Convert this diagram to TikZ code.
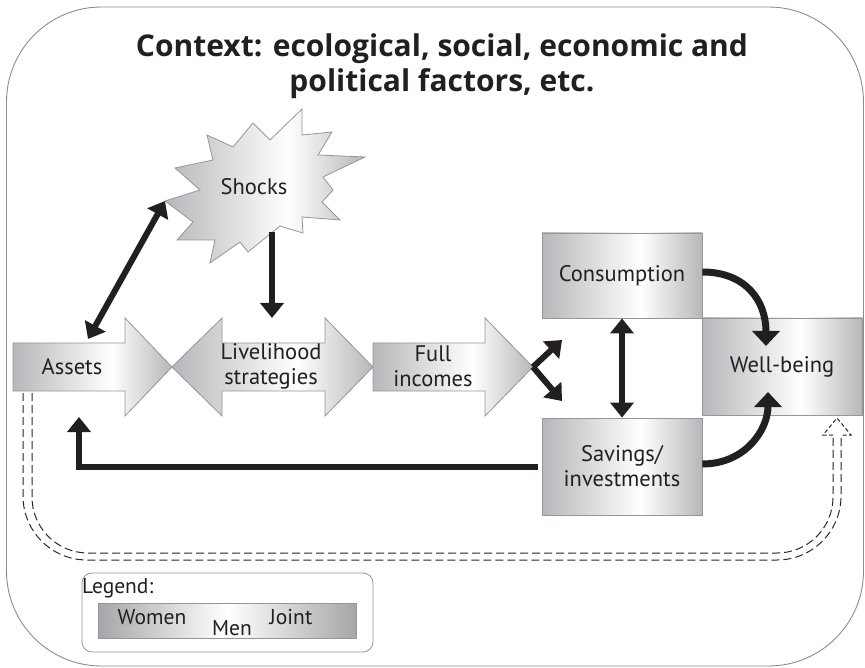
\documentclass[tikz,border=0pt]{standalone}
\usepackage{fontspec}
\setmainfont{PT Sans}
\newfontfamily\headingfont{Open Sans}
\usetikzlibrary{arrows.meta}

\definecolor{ink}{HTML}{231F20}
\definecolor{shadegray}{RGB}{182,183,186}
\definecolor{legendgray}{RGB}{165,166,169}
\definecolor{framegray}{RGB}{140,140,140}
\definecolor{edgegray}{RGB}{150,150,150}
\definecolor{dashgray}{RGB}{40,40,40}

% left-to-right shading: grey edges, white band a little right of centre
\pgfdeclarehorizontalshading{boxshade}{100bp}{color(0bp)=(shadegray); color(25bp)=(shadegray); color(56bp)=(white); color(75bp)=(shadegray); color(100bp)=(shadegray)}
\pgfdeclarehorizontalshading{legendshade}{100bp}{color(0bp)=(legendgray); color(25bp)=(legendgray); color(50bp)=(white); color(75bp)=(legendgray); color(100bp)=(legendgray)}

\begin{document}
\begin{tikzpicture}[x=1pt,y=-1pt,
  lbl/.style={font=\fontsize{22.5}{25}\selectfont, text=ink, align=center, inner sep=0pt},
  face/.style={shading=boxshade, draw=edgegray, line width=0.8pt},
  box/.style={face, lbl, minimum width=160pt},
  headtip/.tip={Triangle[width=23pt,length=15pt]},
  bigarrow/.style={draw=ink, line width=6pt, -headtip},
  dblarrow/.style={draw=ink, line width=6pt, headtip-headtip},
  curvearrow/.style={draw=ink, line width=7pt, -{Triangle[width=27pt,length=15pt]}},
  dashline/.style={draw=dashgray, line width=1pt, dash pattern=on 8pt off 4pt},
  legendtext/.style={font=\fontsize{21.5}{23}\selectfont, text=ink, inner sep=0pt}
]
\useasboundingbox (0,0) rectangle (865,668);

% outer context frame
\draw[framegray, line width=0.9pt, rounded corners=95pt] (6.5,7) rectangle (863.5,666);

\node[font=\headingfont\fontsize{30}{35}\selectfont\bfseries, text=ink, align=center] (title) at (442,66.5)
  {Context: ecological, social, economic and\\political factors, etc.};

% shocks starburst
\path[face] (207,135) -- (233,147) -- (253,123) -- (270,140) -- (302,109) -- (302,135)
  -- (332,132) -- (318,155) -- (365,157) -- (323,177) -- (333,190) -- (322,202)
  -- (340,220) -- (302,217) -- (303,233) -- (280,226) -- (248,252) -- (240,242)
  -- (210,263) -- (215,240) -- (177,240) -- (193,222) -- (165,201) -- (200,190)
  -- (175,168) -- (213,160) -- cycle;
\node[lbl] (shocks) at (254,187) {Shocks};
\coordinate (shockleft) at (165,201);
\coordinate (shockbottom) at (272,232);

% block arrows
\path[face] (13,343) -- (125,343) -- (125,318) -- (172,367) -- (125,416) -- (125,391) -- (13,391) -- cycle;
\path[face] (172,367) -- (222,318) -- (222,343) -- (325,343) -- (325,318) -- (373,367)
  -- (325,416) -- (325,391) -- (222,391) -- (222,416) -- cycle;
\path[face] (373,343) -- (485,343) -- (485,318) -- (533,367) -- (485,416) -- (485,391) -- (373,391) -- cycle;
\node[lbl] (assets) at (72,367) {Assets};
\node[lbl] (livelihood) at (271,366) {Livelihood\\strategies};
\node[lbl] (fullinc) at (433,366) {Full\\incomes};
\coordinate (assetstop) at (88,339);
\coordinate (assetsbottom) at (79,417);
\coordinate (assetsfootA) at (23,393);
\coordinate (assetsfootB) at (32,393);
\coordinate (livetop) at (272,318);
\coordinate (fulltip) at (533,367);
\coordinate (forkup) at (562,340);
\coordinate (forkdown) at (562,401);

% outcome boxes
\node[box, minimum height=85pt] (cons) at (622,275.5) {Consumption};
\node[box, minimum height=97pt] (sav) at (622,466.5) {Savings/\\investments};
\node[box, minimum height=97pt] (wb) at (782,366.5) {Well-being};
\coordinate (wbtop) at (766,346);
\coordinate (wbbottom) at (768,392);
\coordinate (wbfoot) at (837,437);
\coordinate (wbfootA) at (841,437);
\coordinate (wbfootB) at (833,437);

% connectors
\draw[bigarrow] (shockbottom) -- (livetop);
\draw[dblarrow] (assetstop) -- (shockleft);
\draw[bigarrow] (fulltip) -- (forkup);
\draw[bigarrow] (fulltip) -- (forkdown);
\draw[dblarrow] (cons.south) -- (sav.north);
\draw[curvearrow] ([yshift=3.5pt]cons.east) .. controls (745,272) and (766,300) .. (wbtop);
\draw[curvearrow] ([yshift=2.5pt]sav.east) .. controls (745,464) and (768,430) .. (wbbottom);
\draw[bigarrow, shorten <=4pt] (sav.west) -| (assetsbottom);

% dashed double feedback from assets to well-being
\draw[dashline, rounded corners=64pt] (assetsfootA) -- (23,560) -- (841,560) -- (wbfootA);
\draw[dashline, rounded corners=56pt] (assetsfootB) -- (32,553) -- (833,553) -- (wbfootB);
\draw[dashline, dash pattern=on 4pt off 2.5pt]
  ([xshift=-4pt,yshift=2pt]wbfoot) -- ([xshift=-14pt,yshift=2pt]wbfoot) -- ([yshift=19pt]wbfoot)
  -- ([xshift=14pt,yshift=2pt]wbfoot) -- ([xshift=4pt,yshift=2pt]wbfoot);

% legend
\node[draw=edgegray, line width=0.8pt, rounded corners=10pt, minimum width=291pt, minimum height=79pt] (legendbox) at (227.5,612.5) {};
\node[legendtext, anchor=west] (legendtitle) at (82,588) {Legend:};
\node[shading=legendshade, draw=edgegray, line width=0.8pt, minimum width=258pt, minimum height=35pt] (legendbar) at (227,620.5) {};
\node[legendtext] (women) at (152,617) {Women};
\node[legendtext] (men) at (232,628) {Men};
\node[legendtext] (joint) at (291,617) {Joint};
\end{tikzpicture}
\end{document}
